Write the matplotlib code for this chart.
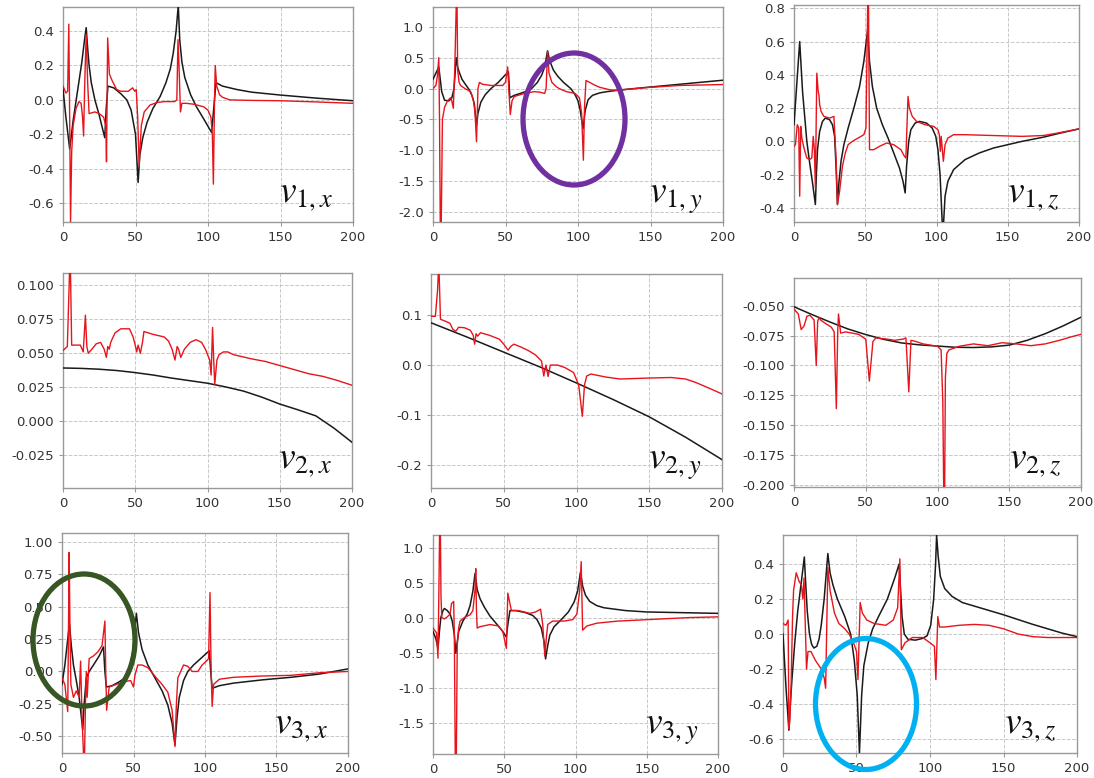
import matplotlib
matplotlib.use("Agg")
import matplotlib.pyplot as plt
from matplotlib.patches import Ellipse
import numpy as np

plt.rcParams['font.family'] = ['DejaVu Sans']
plt.rcParams['mathtext.fontset'] = 'stix'

### (x, y) points: black = reference, red = estimate

v1x_black = [(0, 0.065), (2, -0.1), (4.6, -0.285), (7, -0.12), (10, 0.05), (13, 0.22), (15, 0.36), (16, 0.42),
             (17, 0.3), (18, 0.2), (19.5, 0.1), (22, 0.0), (25, -0.09), (28.8, -0.22), (29.8, -0.05), (31, 0.08),
             (35, 0.07), (40, 0.035), (44, 0.0), (47, -0.06), (50, -0.2), (51.8, -0.48), (53, -0.32), (55, -0.22),
             (58, -0.13), (62, -0.05), (67, 0.02), (71, 0.1), (74, 0.18), (76, 0.27), (78, 0.4), (79.5, 0.55),
             (80.5, 0.35), (82, 0.22), (84, 0.13), (88, 0.03), (92, -0.04), (97, -0.11), (102.5, -0.19),
             (105.5, 0.1), (110, 0.08), (120, 0.06), (130, 0.045), (150, 0.028), (175, 0.01), (200, -0.005)]
v1x_red = [(0, 0.08), (2, 0.04), (3.2, 0.05), (4, 0.44), (4.7, -0.2), (5.2, -0.71), (6, -0.3), (7, -0.15),
           (9, -0.05), (11, -0.01), (12.5, -0.02), (13.5, -0.1), (14.2, -0.21), (15, 0.1), (16, 0.38), (17, 0.1),
           (18, -0.08), (22, -0.07), (25, -0.08), (28, -0.1), (29.5, -0.15), (30, -0.36), (30.8, 0.36), (32, 0.15),
           (34, 0.11), (37, 0.06), (40, 0.05), (45, 0.05), (48, 0.07), (49.5, 0.05), (50.5, 0.06), (51.5, -0.1),
           (52.5, -0.38), (54, -0.15), (56, -0.07), (60, -0.03), (65, -0.015), (70, -0.01), (77, -0.01),
           (78.5, 0.0), (79.3, 0.35), (80, 0.2), (81, -0.07), (82, -0.02), (85, -0.02), (90, -0.025),
           (97, -0.04), (100, -0.06), (102, -0.1), (103, -0.2), (103.7, -0.49), (104.5, 0.0), (105, 0.2),
           (106, 0.08), (108, 0.03), (110, 0.015), (115, 0.0), (130, -0.003), (150, -0.005), (175, -0.012),
           (200, -0.02)]

v1y_black = [(0, 0.15), (2, 0.25), (4, 0.35), (6, -0.05), (8, -0.19), (11, -0.2), (13, -0.15), (14.5, 0.0),
             (16, 0.5), (17, 0.35), (18, 0.27), (20, 0.15), (22, 0.08), (25, -0.02), (27, -0.12), (28.5, -0.25),
             (30, -0.6), (31, -0.4), (33, -0.22), (36, -0.1), (40, 0.0), (45, 0.1), (49, 0.2), (52, 0.27),
             (53, -0.15), (56, -0.11), (60, -0.08), (65, -0.04), (68, 0.0), (72, 0.1), (75, 0.22), (77, 0.35),
             (79, 0.61), (80.5, 0.45), (83, 0.3), (86, 0.2), (90, 0.1), (95, 0.0), (98, -0.1), (100, -0.2),
             (101.5, -0.35), (103.5, -0.65), (105, -0.35), (107, -0.18), (110, -0.11), (115, -0.07),
             (120, -0.05), (130, -0.02), (150, 0.025), (175, 0.08), (200, 0.135)]
v1y_red = [(0, 0.0), (2, 0.05), (3, 0.2), (4, 0.5), (4.5, -0.5), (5, -2.16), (5.7, -2.16), (6.5, -0.5),
           (8, -0.3), (10, -0.2), (12, -0.15), (13, -0.2), (14, -0.32), (15, 0.3), (16, 1.32), (16.6, 1.32),
           (17, 0.3), (18, 0.1), (19, 0.05), (22, 0.0), (26, -0.05), (28, -0.2), (29, -0.4), (30, -0.86),
           (31, 0.0), (32, 0.1), (34, 0.07), (40, 0.05), (48, 0.05), (50, 0.1), (51.5, 0.35), (52.5, -0.1),
           (53.3, -0.42), (54.5, -0.2), (56, -0.13), (60, -0.1), (65, -0.07), (70, -0.05), (74, -0.06),
           (77, -0.08), (78, 0.0), (79, 0.6), (80, 0.25), (82, 0.1), (85, 0.03), (87, 0.0), (92, -0.05),
           (98, -0.08), (101, -0.15), (102.5, -0.4), (103.7, -1.16), (104.5, -0.3), (105.5, 0.13), (108, 0.1),
           (112, 0.05), (115, 0.02), (122, -0.02), (128, -0.03), (135, -0.01), (150, 0.02), (170, 0.05),
           (200, 0.065)]

v1z_black = [(0, 0.1), (2, 0.35), (4, 0.6), (5, 0.45), (6, 0.3), (7.5, 0.15), (9, 0.0), (11, -0.13),
             (13, -0.25), (15, -0.38), (15.7, -0.2), (16.5, -0.05), (18, 0.06), (20, 0.12), (22, 0.14),
             (25, 0.13), (27, 0.1), (28.5, 0.03), (29.5, -0.15), (30.5, -0.38), (31.5, -0.25), (33, -0.12),
             (35, -0.02), (38, 0.08), (42, 0.2), (46, 0.33), (49, 0.48), (51.7, 0.67), (53, 0.48), (55, 0.33),
             (58, 0.2), (62, 0.1), (66, 0.02), (70, -0.07), (74, -0.16), (76.5, -0.24), (78, -0.31),
             (79, -0.15), (80.5, 0.0), (82, 0.07), (85, 0.11), (88, 0.12), (93, 0.11), (97, 0.08),
             (99.5, 0.03), (101, -0.05), (102.5, -0.2), (104, -0.485), (105, -0.485), (106, -0.33),
             (108, -0.24), (112, -0.17), (120, -0.11), (130, -0.07), (140, -0.04), (150, -0.02), (160, 0.0),
             (175, 0.025), (187, 0.05), (200, 0.075)]
v1z_red = [(0, -0.03), (1, -0.02), (2.3, 0.1), (3.3, 0.08), (4, -0.33), (4.7, 0.09), (5.5, 0.02), (7, -0.04),
           (9, -0.1), (11, -0.11), (12.5, -0.1), (13.5, 0.03), (14.3, -0.05), (15, -0.28), (16, 0.41),
           (17, 0.3), (17.5, 0.28), (18, 0.22), (19, 0.18), (21, 0.15), (25, 0.14), (28, 0.15), (29.5, -0.1),
           (30.5, -0.38), (32, -0.3), (34, -0.15), (36, -0.07), (38, -0.02), (41, 0.0), (45, 0.02), (49, 0.04),
           (50.5, 0.08), (51.7, 0.82), (52.3, 0.82), (53, -0.05), (56, -0.05), (60, -0.03), (65, -0.01),
           (70, -0.02), (75, -0.05), (77.5, -0.09), (78.5, -0.1), (80, 0.27), (81, 0.2), (83, 0.15),
           (86, 0.12), (92, 0.1), (98, 0.09), (101, 0.07), (102, 0.04), (102.7, -0.06), (103.3, 0.03),
           (104.8, -0.12), (106, -0.02), (108, 0.02), (112, 0.04), (120, 0.04), (140, 0.035), (160, 0.03),
           (175, 0.035), (185, 0.05), (200, 0.075)]

v2x_black = [(0, 0.0392), (12.5, 0.0389), (25, 0.0383), (37.5, 0.0373), (50, 0.0358), (62.5, 0.034),
             (75, 0.0318), (87.5, 0.0299), (100, 0.028), (112.5, 0.0253), (125, 0.0222), (137.5, 0.0178),
             (150, 0.0127), (162.5, 0.0085), (175, 0.004), (187.5, -0.005), (200, -0.0154)]
v2x_red = [(0, 0.052), (3, 0.055), (4.5, 0.109), (5.2, 0.109), (6, 0.056), (9, 0.056), (12, 0.056),
           (14, 0.051), (15.5, 0.078), (16.5, 0.055), (17.5, 0.05), (20, 0.053), (23, 0.057), (26, 0.058),
           (28.5, 0.053), (30, 0.047), (31, 0.055), (32, 0.053), (33, 0.058), (36, 0.065), (40, 0.068),
           (46, 0.068), (48.5, 0.062), (50, 0.056), (51, 0.051), (52, 0.056), (53.5, 0.05), (55, 0.058),
           (56, 0.066), (62, 0.064), (70, 0.062), (73, 0.059), (75.5, 0.053), (77.5, 0.045), (79, 0.055),
           (80, 0.053), (81.5, 0.047), (84, 0.053), (88, 0.058), (92, 0.06), (96, 0.058), (99, 0.052),
           (101.5, 0.045), (102.5, 0.034), (103.5, 0.069), (104.3, 0.045), (105, 0.027), (106.5, 0.045),
           (108, 0.049), (111, 0.051), (114, 0.051), (118, 0.049), (130, 0.046), (140, 0.044), (150, 0.041),
           (160, 0.038), (170, 0.035), (180, 0.033), (190, 0.03), (200, 0.0265)]

v2y_black = [(0, 0.085), (25, 0.056), (50, 0.026), (75, -0.004), (100, -0.036), (125, -0.069),
             (150, -0.104), (175, -0.145), (200, -0.19)]
v2y_red = [(0, 0.098), (3, 0.098), (4.5, 0.15), (5, 0.183), (5.6, 0.183), (6.5, 0.092), (10, 0.088),
           (13, 0.084), (15, 0.072), (17, 0.068), (19, 0.076), (23, 0.075), (27, 0.07), (29, 0.06), (30, 0.042),
           (31, 0.063), (32, 0.058), (34, 0.065), (40, 0.06), (47, 0.052), (50, 0.042), (53, 0.03), (55, 0.038),
           (57, 0.042), (62, 0.036), (67, 0.029), (72, 0.02), (76, 0.008), (77.5, -0.022), (79, 0.0),
           (80.5, -0.023), (82, 0.0), (87, 0.0), (92, -0.005), (98, -0.015), (101.5, -0.04), (104, -0.103),
           (105.5, -0.04), (107, -0.022), (110, -0.018), (120, -0.024), (130, -0.028), (150, -0.026),
           (165, -0.025), (175, -0.028), (182, -0.035), (190, -0.045), (200, -0.058)]

v2z_black = [(0, -0.051), (12.5, -0.0575), (25, -0.0637), (37.5, -0.0695), (50, -0.0742), (62.5, -0.0782),
             (75, -0.0812), (87.5, -0.0828), (100, -0.0838), (112.5, -0.0848), (125, -0.085), (137.5, -0.0845),
             (150, -0.083), (162.5, -0.079), (175, -0.0735), (187.5, -0.067), (200, -0.0597)]
v2z_red = [(0, -0.053), (3, -0.057), (5, -0.07), (7, -0.067), (9, -0.059), (11, -0.058), (14, -0.062),
           (15.5, -0.1), (16.5, -0.063), (17.5, -0.06), (18.5, -0.062), (22, -0.065), (26, -0.068),
           (28, -0.072), (29.5, -0.136), (30.5, -0.07), (31, -0.057), (32.5, -0.073), (36, -0.072),
           (45, -0.074), (50, -0.078), (52.5, -0.113), (55, -0.08), (57, -0.077), (65, -0.078), (70, -0.079),
           (76, -0.078), (78, -0.077), (80, -0.122), (81.5, -0.079), (85, -0.08), (90, -0.082), (95, -0.083),
           (100, -0.084), (102.5, -0.087), (103.7, -0.13), (104.3, -0.2014), (105, -0.2014), (105.5, -0.11),
           (106.5, -0.09), (108, -0.087), (115, -0.084), (125, -0.082), (135, -0.0835), (145, -0.081),
           (155, -0.082), (165, -0.0835), (175, -0.082), (185, -0.079), (195, -0.0755), (200, -0.074)]

v3x_black = [(0, -0.1), (2, 0.05), (4, 0.25), (5.2, 0.37), (6.5, 0.2), (8, 0.05), (10, -0.07), (12, -0.2),
             (14.5, -0.45), (15.5, -0.25), (17, -0.05), (19, 0.0), (22, 0.05), (26, 0.12), (29, 0.19),
             (30, 0.0), (31, -0.12), (35, -0.11), (40, -0.08), (44, -0.05), (47, 0.02), (49.5, 0.15),
             (52, 0.45), (53.5, 0.3), (56, 0.17), (60, 0.05), (65, -0.05), (70, -0.15), (74, -0.26),
             (77, -0.4), (79, -0.567), (80.5, -0.35), (82, -0.2), (85, -0.07), (88, 0.0), (92, 0.05),
             (97, 0.1), (103, 0.16), (104, 0.0), (105, -0.13), (110, -0.11), (120, -0.09), (140, -0.065),
             (160, -0.045), (180, -0.02), (200, 0.02)]
v3x_red = [(0, -0.05), (2, -0.1), (4, -0.31), (4.6, 0.4), (5, 0.92), (5.6, 0.3), (6.2, -0.1), (8, -0.2),
           (10, -0.15), (12, -0.2), (13, 0.08), (14, -0.35), (15, -0.63), (15.8, -0.63), (16.5, -0.2),
           (17, 0.0), (17.6, -0.2), (19, 0.1), (22, 0.12), (25, 0.15), (28, 0.2), (30, 0.39), (30.6, 0.0),
           (31.2, -0.3), (33, -0.12), (38, -0.1), (43, -0.08), (48, -0.07), (50, -0.12), (51, -0.03),
           (53, 0.05), (56, 0.05), (60, 0.03), (66, -0.05), (70, -0.1), (74, -0.16), (77, -0.3), (79, -0.58),
           (80, -0.25), (81, -0.05), (83, 0.0), (85, 0.05), (88, 0.04), (91, 0.0), (95, 0.0), (98, 0.05),
           (101, 0.08), (102.5, 0.1), (103.5, 0.61), (104.3, 0.0), (105, -0.27), (106, -0.1), (110, -0.06),
           (120, -0.045), (140, -0.035), (160, -0.03), (180, -0.01), (200, 0.0)]

v3y_black = [(0, -0.2), (2, -0.3), (3.5, -0.44), (4.5, -0.2), (5.5, 0.0), (7, 0.1), (8, 0.13), (10, 0.1),
             (12, 0.05), (13.5, -0.05), (15, -0.25), (16, -0.51), (17, -0.35), (18, -0.2), (21, -0.05),
             (24, 0.05), (26, 0.17), (28, 0.38), (29.5, 0.63), (31, 0.4), (33, 0.27), (36, 0.15), (40, 0.02),
             (45, -0.1), (49, -0.2), (51.5, -0.28), (52.5, -0.1), (54, 0.1), (58, 0.1), (65, 0.07), (70, 0.03),
             (73, -0.03), (76, -0.15), (78, -0.35), (79, -0.59), (80.5, -0.4), (82, -0.25), (85, -0.13),
             (90, -0.03), (95, 0.08), (99, 0.22), (101.5, 0.38), (103.5, 0.65), (105, 0.45), (107, 0.32),
             (110, 0.23), (115, 0.17), (120, 0.14), (135, 0.1), (150, 0.08), (175, 0.07), (200, 0.06)]
v3y_red = [(0, -0.15), (2.5, -0.22), (3.5, -0.58), (4.2, 0.5), (4.6, 1.18), (5.2, 1.18), (5.6, 0.3),
           (6.2, 0.0), (8, -0.02), (10, 0.01), (12, 0.05), (13, 0.2), (14.5, 0.23), (15, -0.3), (15.6, -1.95),
           (16.4, -1.95), (17, -0.4), (18, -0.15), (19, -0.05), (22, 0.0), (26, 0.04), (28, 0.1), (29.5, 0.4),
           (30, 0.7), (30.5, 0.1), (31, -0.15), (33, -0.13), (40, -0.1), (46, -0.12), (49, -0.2),
           (51.5, -0.44), (52.5, 0.35), (53.5, 0.25), (55, 0.1), (60, 0.1), (68, 0.06), (72, 0.08),
           (75.5, 0.12), (77, -0.1), (78.5, -0.55), (79.5, -0.3), (80.5, -0.1), (84, -0.05), (92, -0.05),
           (98, -0.03), (101, 0.05), (103, 0.4), (104, 0.8), (104.6, 0.2), (105, -0.18), (108, -0.12),
           (115, -0.08), (130, -0.05), (160, -0.02), (180, 0.0), (200, 0.01)]

v3z_black = [(0, 0.0), (2, -0.3), (4, -0.55), (5, -0.4), (6, -0.27), (8, -0.05), (10, 0.13), (12.5, 0.3),
             (14.5, 0.44), (15.5, 0.28), (16.5, 0.13), (18, 0.0), (19.5, -0.06), (21, -0.08), (23, -0.07),
             (24.5, -0.03), (26, 0.05), (28, 0.2), (30.5, 0.46), (32, 0.35), (34, 0.28), (37, 0.2), (42, 0.1),
             (46, 0.0), (48.5, -0.15), (50.5, -0.35), (52, -0.68), (53.5, -0.35), (55, -0.18), (58, -0.05),
             (61, 0.03), (65, 0.1), (71, 0.2), (76, 0.32), (79, 0.4), (80, 0.25), (81, 0.1), (82.5, 0.0),
             (85, -0.03), (90, -0.035), (95, -0.025), (98, -0.01), (100.5, 0.05), (102.5, 0.2), (103.8, 0.4),
             (104.5, 0.566), (105.5, 0.45), (107, 0.33), (110, 0.26), (115, 0.215), (122, 0.18), (130, 0.16),
             (150, 0.11), (170, 0.055), (190, 0.005), (200, -0.015)]
v3z_red = [(0, 0.06), (2, 0.05), (3.5, 0.08), (4, -0.54), (4.6, -0.5), (5.5, -0.3), (6.5, 0.1), (7.2, 0.25),
           (9, 0.35), (11, 0.3), (12.5, 0.28), (13.5, 0.2), (14.3, 0.32), (15, 0.1), (16, -0.2), (17, -0.1),
           (19, -0.1), (22, -0.15), (26, -0.2), (28, -0.25), (29, -0.31), (30.5, 0.38), (32, 0.25), (35, 0.12),
           (38, 0.06), (42, 0.03), (45, 0.0), (48, -0.05), (50, -0.1), (51, -0.26), (52.5, 0.18), (54, 0.12),
           (57, 0.08), (62, 0.06), (70, 0.05), (75, 0.08), (78, 0.15), (79.5, 0.43), (80.5, -0.09),
           (83, -0.05), (88, -0.02), (95, -0.02), (100, -0.05), (103, -0.07), (104, -0.26), (105.3, 0.1),
           (106.5, 0.04), (110, 0.04), (120, 0.05), (130, 0.055), (140, 0.05), (150, 0.03), (160, 0.0),
           (170, -0.015), (180, -0.02), (200, -0.02)]

### panel labels, y limits and y ticks
labels = [r'$v_{1,x}$', r'$v_{1,y}$', r'$v_{1,z}$',
          r'$v_{2,x}$', r'$v_{2,y}$', r'$v_{2,z}$',
          r'$v_{3,x}$', r'$v_{3,y}$', r'$v_{3,z}$']
ylims = [(-0.71, 0.54), (-2.16, 1.32), (-0.485, 0.82),
         (-0.049, 0.109), (-0.247, 0.183), (-0.2014, -0.027),
         (-0.63, 1.07), (-1.95, 1.18), (-0.68, 0.566)]
yticks = [[-0.6, -0.4, -0.2, 0.0, 0.2, 0.4],
          [-2.0, -1.5, -1.0, -0.5, 0.0, 0.5, 1.0],
          [-0.4, -0.2, 0.0, 0.2, 0.4, 0.6, 0.8],
          [-0.025, 0.0, 0.025, 0.05, 0.075, 0.1],
          [-0.2, -0.1, 0.0, 0.1],
          [-0.2, -0.175, -0.15, -0.125, -0.1, -0.075, -0.05],
          [-0.5, -0.25, 0.0, 0.25, 0.5, 0.75, 1.0],
          [-1.5, -1.0, -0.5, 0.0, 0.5, 1.0],
          [-0.6, -0.4, -0.2, 0.0, 0.2, 0.4]]
yfmt = ['%.1f', '%.1f', '%.1f', '%.3f', '%.1f', '%.3f', '%.2f', '%.1f', '%.1f']
curves = [(v1x_black, v1x_red), (v1y_black, v1y_red), (v1z_black, v1z_red),
          (v2x_black, v2x_red), (v2y_black, v2y_red), (v2z_black, v2z_red),
          (v3x_black, v3x_red), (v3y_black, v3y_red), (v3z_black, v3z_red)]

W, H = 1094, 778
# axes boxes in pixels: left, right, top, bottom
boxes = [(63, 353, 7, 222), (433, 723, 7, 222), (794, 1079, 5, 222),
         (63, 352, 273, 488), (431, 722, 274, 488), (794, 1081, 278, 487),
         (62, 348, 533, 753), (433, 718, 535, 754), (783, 1077, 535, 753)]

fig = plt.figure(figsize=(W / 100, H / 100), dpi=100)
fig.patch.set_facecolor('white')

for i in range(9):
    l, r, t, b = boxes[i]
    ax = fig.add_axes([l / W, 1 - b / H, (r - l) / W, (b - t) / H])
    blk = np.array(curves[i][0])
    red = np.array(curves[i][1])
    ax.plot(blk[:, 0], blk[:, 1], color='#1a1a1a', lw=1.1, zorder=3)
    ax.plot(red[:, 0], red[:, 1], color='#e8141c', lw=1.0, zorder=4)
    ax.set_xlim(0, 200)
    ax.set_ylim(*ylims[i])
    ax.set_xticks([0, 50, 100, 150, 200])
    ax.set_yticks(yticks[i])
    ax.yaxis.set_major_formatter(matplotlib.ticker.FormatStrFormatter(yfmt[i]))
    ax.grid(True, linestyle='--', color='#c8c8c8', lw=0.7)
    ax.set_axisbelow(True)
    for s in ax.spines.values():
        s.set_color('#999999')
        s.set_linewidth(1.0)
    ax.tick_params(labelsize=9.5, colors='#333333', length=3, color='#999999')
    ax.text(0.93, 0.09, labels[i], transform=ax.transAxes, ha='right', va='baseline',
            fontsize=27, color='#111111', zorder=6)

### highlight ellipses drawn on a full figure overlay
ov = fig.add_axes([0, 0, 1, 1])
ov.set_xlim(0, W)
ov.set_ylim(H, 0)
ov.axis('off')
ov.patch.set_alpha(0)
ov.add_patch(Ellipse((574, 119), 102, 132, fill=False, ec='#7030a0', lw=3.8))
ov.add_patch(Ellipse((84, 640), 102, 132, fill=False, ec='#375623', lw=3.8))
ov.add_patch(Ellipse((866, 704), 101, 131, fill=False, ec='#00b0f0', lw=3.8))

fig.savefig('out.png', dpi=100)
